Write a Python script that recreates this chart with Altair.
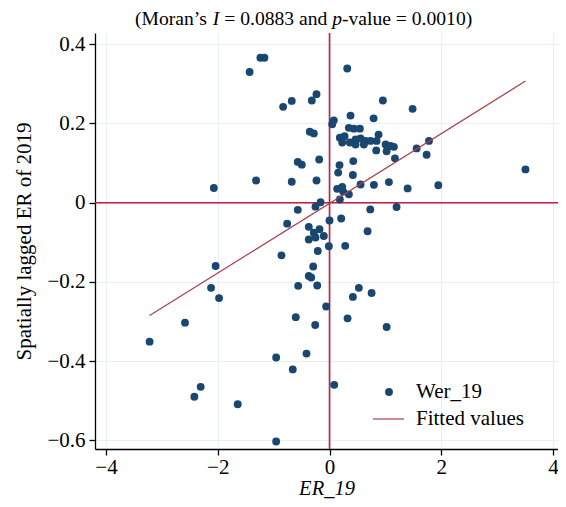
import altair as alt
import pandas as pd

# ---- data ----
er_19 = [
    -1.237, -1.165, -1.43, -0.83, -0.676, -0.317, -0.233, 0.077, 0.048, -0.353,
    -0.281, -0.568, -0.496, -0.185, -1.314, -0.676, -0.233, -2.07, -0.16, 0.317,
    0.955, 1.487, 0.376, 0.789, 0.346, 0.436, 0.543, 0.878, 0.185, 0.269,
    0.227, 0.364, 0.466, 0.556, 0.645, 0.466, 0.615, 0.735, 0.842, 1.004,
    1.093, 1.152, 0.836, 1.022, 1.559, 1.78, 1.738, 1.171, 0.425, 0.179,
    0.155, 0.418, 3.507, 1.063, 0.794, 0.556, 1.398, 1.947, 0.137, 0.227,
    0.245, 0.346, 0.185,
    -0.251, -0.568, 0.729, 1.2, 0.0, 0.209, -0.371, -0.179, -0.281, -0.371,
    -0.251, -0.102, 0.681, -0.012, 0.281, -0.21, -0.292, -0.371, -0.328, -0.561,
    -0.22, 0.525, 0.753, 0.418, -0.06, 0.323, 1.022, -0.256, -0.412, -0.758,
    -0.86, -2.038, -2.12, -1.977, -2.586, -0.604, -3.22, -0.955, -0.658, 0.084,
    -2.306, -2.419, -1.643, -0.955,
]
wer_19 = [
    0.366, 0.366, 0.330, 0.242, 0.257, 0.258, 0.274, 0.208, 0.198, 0.179,
    0.175, 0.103, 0.096, 0.109, 0.056, 0.053, 0.056, 0.037, 0.001, 0.339,
    0.258, 0.237, 0.220, 0.213, 0.189, 0.187, 0.187, 0.172, 0.164, 0.168,
    0.152, 0.152, 0.160, 0.162, 0.156, 0.147, 0.147, 0.156, 0.156, 0.147,
    0.143, 0.141, 0.132, 0.130, 0.137, 0.156, 0.121, 0.112, 0.105, 0.095,
    0.076, 0.070, 0.084, 0.052, 0.045, 0.046, 0.036, 0.044, 0.035, 0.040,
    0.028, 0.021, 0.008,
    -0.010, -0.018, -0.017, -0.011, -0.045, -0.040, -0.061, -0.067, -0.076, -0.093,
    -0.088, -0.084, -0.072, -0.110, -0.109, -0.122, -0.161, -0.185, -0.189, -0.210,
    -0.209, -0.215, -0.228, -0.238, -0.262, -0.292, -0.314, -0.309, -0.381, -0.053,
    -0.133, -0.160, -0.215, -0.241, -0.303, -0.289, -0.351, -0.391, -0.421, -0.460,
    -0.465, -0.490, -0.509, -0.603,
]
fit_x = [-3.22, 3.507]
fit_y = [-0.285, 0.307]
x_ticks = [-4, -2, 0, 2, 4]
y_ticks = [-0.6, -0.4, -0.2, 0, 0.2, 0.4]
title_parts = ["(Moran\u2019s", "I", "= 0.0883 and", "p", "-value = 0.0010)"]
title_styles = ["normal", "italic", "normal", "italic", "normal"]
legend_labels = ["Wer_19", "Fitted values"]

# ---- styling ----
FONT = "Liberation Serif"
NAVY = "#1a476f"
RED = "#c91d42"
FIT = "#a8404a"
W, H = 463, 416

xs = alt.Scale(domain=[-4.197, 4.089], nice=False, zero=False)
ys = alt.Scale(domain=[-0.622, 0.4285], nice=False, zero=False)
x_axis = alt.Axis(values=x_ticks, format="~g", title="ER_19", titleFontStyle="italic",
                  labelPadding=1, titleY=45, titleBaseline="alphabetic", titleFontSize=20.5)
y_axis = alt.Axis(values=y_ticks, format="~g", title="Spatially lagged ER of 2019",
                  labelPadding=4, titlePadding=12)
x_enc = alt.X("er:Q", scale=xs, axis=x_axis)
y_enc = alt.Y("wer:Q", scale=ys, axis=y_axis)

df = pd.DataFrame({"er": er_19, "wer": wer_19})
fit_df = pd.DataFrame({"er": fit_x, "wer": fit_y})

vline = alt.Chart(pd.DataFrame({"er": [0]})).mark_rule(color=RED, strokeWidth=1.6).encode(x=x_enc)
hline = alt.Chart(pd.DataFrame({"wer": [0]})).mark_rule(color=RED, strokeWidth=1.6).encode(y=y_enc)
pts = alt.Chart(df).mark_circle(size=62, color=NAVY, opacity=1).encode(x=x_enc, y=y_enc)
fit = alt.Chart(fit_df).mark_line(color=FIT, strokeWidth=1.2).encode(x=x_enc, y=y_enc)

# ---- title made of pieces (italic I and p); spaces handled through offsets ----
fs_title = 19.6
em = fs_title
sp = 0.25 * em
s0 = 40.0
s1 = s0 + 3.721 * em + sp          # after "(Moran’s" + space
s2 = s1 + 0.333 * em + sp          # after italic I + space
s3 = s2 + 5.258 * em + sp          # after "= 0.0883 and" + space
s4 = s3 + 0.5 * em                 # after italic p
starts = [s0, s1, s2, s3, s4]
one = pd.DataFrame({"k": [0]})
title_layers = []
for txt, sty, sx in zip(title_parts, title_styles, starts):
    title_layers.append(
        alt.Chart(one).mark_text(text=txt, font=FONT, fontSize=fs_title, fontStyle=sty,
                                 align="left", baseline="alphabetic", color="black")
        .encode(x=alt.value(sx), y=alt.value(-8))
    )

# ---- legend (inside, bottom right) ----
leg_pt = alt.Chart(one).mark_circle(size=62, color=NAVY, opacity=1).encode(
    x=alt.value(294), y=alt.value(359))
leg_ln = alt.Chart(one).mark_rule(color=FIT, strokeWidth=1.2).encode(
    x=alt.value(278), x2=alt.value(309), y=alt.value(386))
leg_t1 = alt.Chart(one).mark_text(text=legend_labels[0], font=FONT, fontSize=21, align="left",
                                  baseline="middle", color="black").encode(
    x=alt.value(321), y=alt.value(359))
leg_t2 = alt.Chart(one).mark_text(text=legend_labels[1], font=FONT, fontSize=21, align="left",
                                  baseline="middle", color="black").encode(
    x=alt.value(321), y=alt.value(386))

chart = alt.layer(vline, hline, pts, fit, leg_pt, leg_ln, leg_t1, leg_t2, *title_layers).properties(
    width=W, height=H,
    autosize=alt.AutoSizeParams(type="none"),
    padding={"left": 87, "top": 25, "right": 0, "bottom": 50},
).configure_view(strokeWidth=0).configure_axis(
    domainColor="black", domainWidth=1.3, tickColor="black", tickWidth=1.3, tickSize=6,
    labelFont=FONT, labelFontSize=21, labelColor="black",
    titleFont=FONT, titleFontSize=21, titleFontWeight="normal", titleColor="black",
    grid=True, gridColor="#e6eff1", gridWidth=1,
)

chart.save("out.html", embed_options={"renderer": "svg", "actions": False})
